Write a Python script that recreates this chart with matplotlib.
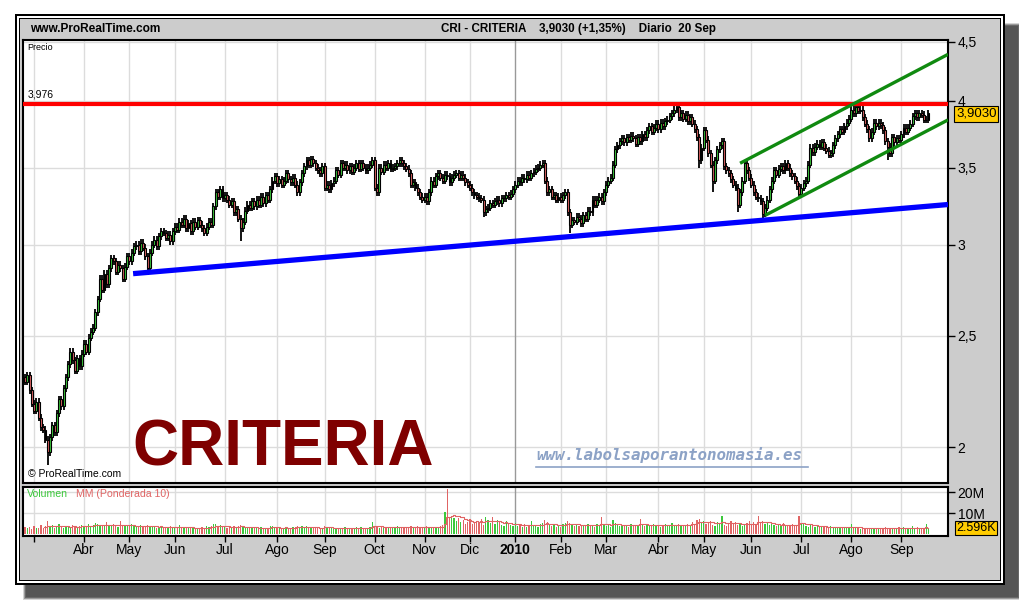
import numpy as np
import matplotlib
matplotlib.use('Agg')
import matplotlib.pyplot as plt
from matplotlib.patches import Rectangle
from matplotlib.ticker import NullLocator

W, H = 1020, 600

# daily closes, CRI (Criteria) late Feb 2009 -> 20 Sep 2010
closes = [
    2.28, 2.31, 2.24, 2.18, 2.15, 2.19, 2.12, 2.08, 2.07, 2.03,
    1.98, 2.04, 2.09, 2.06, 2.14, 2.20, 2.17, 2.25, 2.30, 2.36,
    2.42, 2.38, 2.33, 2.39, 2.35, 2.41, 2.46, 2.42, 2.49, 2.52,
    2.54, 2.62, 2.69, 2.80, 2.74, 2.83, 2.77, 2.86, 2.92, 2.90,
    2.84, 2.88, 2.86, 2.80, 2.87, 2.93, 2.90, 2.95, 2.99, 3.00,
    2.96, 3.01, 2.98, 2.93, 2.86, 2.95, 3.00, 3.03, 2.99, 3.05,
    3.08, 3.07, 3.04, 3.06, 3.02, 3.08, 3.11, 3.09, 3.14, 3.12,
    3.16, 3.10, 3.13, 3.08, 3.14, 3.11, 3.15, 3.12, 3.10, 3.07,
    3.11, 3.14, 3.12, 3.24, 3.33, 3.30, 3.35, 3.29, 3.31, 3.28,
    3.25, 3.27, 3.20, 3.22, 3.16, 3.10, 3.14, 3.21, 3.25, 3.23,
    3.27, 3.24, 3.28, 3.25, 3.30, 3.26, 3.31, 3.28, 3.35, 3.41,
    3.44, 3.39, 3.42, 3.38, 3.41, 3.46, 3.42, 3.40, 3.43, 3.38,
    3.33, 3.40, 3.46, 3.51, 3.55, 3.52, 3.56, 3.53, 3.50, 3.48,
    3.46, 3.51, 3.36, 3.38, 3.35, 3.39, 3.41, 3.48, 3.45, 3.53,
    3.50, 3.52, 3.48, 3.51, 3.47, 3.50, 3.53, 3.49, 3.53, 3.50,
    3.48, 3.50, 3.52, 3.55, 3.36, 3.33, 3.50, 3.47, 3.52, 3.50,
    3.53, 3.49, 3.50, 3.51, 3.53, 3.55, 3.53, 3.51, 3.49, 3.46,
    3.38, 3.40, 3.36, 3.33, 3.30, 3.28, 3.30, 3.27, 3.33, 3.41,
    3.38, 3.44, 3.46, 3.43, 3.41, 3.45, 3.44, 3.40, 3.43, 3.45,
    3.46, 3.43, 3.45, 3.43, 3.40, 3.38, 3.36, 3.33, 3.31, 3.30,
    3.29, 3.28, 3.20, 3.22, 3.23, 3.26, 3.25, 3.27, 3.28, 3.26,
    3.29, 3.29, 3.31, 3.30, 3.32, 3.35, 3.38, 3.41, 3.40, 3.43,
    3.42, 3.45, 3.43, 3.46, 3.47, 3.49, 3.50, 3.52, 3.53, 3.41,
    3.33, 3.35, 3.30, 3.31, 3.28, 3.30, 3.28, 3.31, 3.33, 3.20,
    3.12, 3.15, 3.14, 3.17, 3.16, 3.13, 3.18, 3.16, 3.21, 3.20,
    3.28, 3.25, 3.28, 3.30, 3.27, 3.33, 3.38, 3.41, 3.43, 3.52,
    3.63, 3.66, 3.69, 3.71, 3.68, 3.72, 3.70, 3.73, 3.71, 3.67,
    3.72, 3.69, 3.74, 3.72, 3.77, 3.80, 3.76, 3.79, 3.82, 3.78,
    3.83, 3.80, 3.84, 3.85, 3.88, 3.90, 3.93, 3.95, 3.87, 3.90,
    3.86, 3.89, 3.84, 3.87, 3.82, 3.78, 3.72, 3.55, 3.64, 3.77,
    3.70, 3.60, 3.52, 3.41, 3.55, 3.63, 3.66, 3.69, 3.51, 3.48,
    3.46, 3.42, 3.38, 3.36, 3.25, 3.33, 3.41, 3.53, 3.48, 3.43,
    3.38, 3.33, 3.30, 3.29, 3.27, 3.19, 3.23, 3.28, 3.35, 3.41,
    3.48, 3.45, 3.49, 3.51, 3.48, 3.53, 3.50, 3.46, 3.44, 3.41,
    3.37, 3.32, 3.36, 3.39, 3.41, 3.52, 3.64, 3.61, 3.65, 3.67,
    3.65, 3.68, 3.64, 3.62, 3.59, 3.60, 3.66, 3.71, 3.74, 3.78,
    3.76, 3.80, 3.83, 3.86, 3.93, 3.90, 3.95, 3.92, 3.93, 3.87,
    3.82, 3.78, 3.71, 3.76, 3.83, 3.80, 3.83, 3.81, 3.77, 3.69,
    3.65, 3.60, 3.72, 3.68, 3.71, 3.70, 3.74, 3.79, 3.76, 3.79,
    3.82, 3.88, 3.90, 3.87, 3.90, 3.89, 3.85, 3.851, 3.903,
]
first_open = 2.30
# candles whose low wick reaches far below the body
long_wicks = {10: 1.93, 54: 2.82, 95: 3.02, 202: 3.17, 240: 3.07,
              297: 3.50, 303: 3.33, 314: 3.20, 325: 3.15, 380: 3.55}

# daily volume, millions
volumes = [
    3.2, 2.8, 3.5, 2.6, 3.9, 3.1, 2.7, 4.4, 3.0, 3.6,
    6.2, 3.8, 4.1, 2.9, 3.5, 4.6, 3.3, 2.8, 4.0, 3.7,
    3.1, 4.2, 3.4, 2.9, 3.8, 4.5, 3.2, 3.9, 4.7, 3.5,
    4.1, 5.2, 4.8, 3.6, 4.3, 3.9, 5.5, 4.2, 3.8, 4.6,
    4.0, 3.5, 6.0, 4.4, 3.7, 4.1, 3.6, 4.8, 3.9, 3.4,
    3.8, 4.2, 3.3, 3.9, 4.5, 3.6, 3.2, 3.7, 3.1, 3.5,
    3.9, 3.0, 3.4, 2.9, 3.6, 3.3, 2.8, 3.2, 4.1, 3.0,
    3.4, 2.7, 3.1, 2.9, 3.5, 2.6, 3.0, 2.8, 3.3, 2.5,
    3.6, 3.2, 3.8, 5.0, 4.6, 3.9, 4.2, 3.5, 3.8, 3.1,
    3.4, 2.9, 3.7, 3.2, 3.9, 4.4, 3.5, 3.0, 3.3, 2.8,
    3.1, 2.7, 3.0, 2.6, 3.2, 2.9, 2.5, 2.8, 3.6, 3.9,
    3.3, 2.9, 3.1, 2.7, 3.0, 3.4, 2.8, 2.6, 3.2, 3.5,
    3.8, 3.1, 3.6, 3.3, 3.9, 3.0, 2.8, 3.2, 2.9, 3.1,
    2.7, 3.0, 3.7, 3.4, 2.9, 3.2, 2.6, 3.1, 2.8, 3.0,
    2.7, 3.3, 2.9, 3.1, 2.8, 3.0, 3.2, 2.7, 3.4, 2.9,
    3.1, 2.8, 3.3, 5.6, 4.0, 3.8, 3.1, 3.5, 2.9, 3.2,
    3.0, 3.4, 2.8, 3.1, 3.6, 2.9, 3.3, 3.0, 3.2, 3.5,
    3.9, 3.4, 3.1, 3.6, 3.3, 3.0, 3.4, 3.8, 3.2, 3.5,
    3.1, 3.4, 3.0, 3.6, 4.2, 10.5, 21.5, 8.2, 8.5, 7.6,
    6.1, 7.8, 5.5, 6.9, 4.8, 5.9, 7.2, 4.6, 5.8, 6.4,
    5.1, 7.0, 4.3, 8.1, 6.5, 5.2, 7.9, 4.9, 6.8, 5.5,
    4.4, 3.8, 6.3, 5.0, 4.2, 3.6, 5.4, 3.9, 4.6, 3.3,
    4.8, 3.5, 4.1, 6.2, 3.7, 4.4, 3.2, 4.9, 5.3, 6.8,
    5.6, 4.2, 3.8, 4.6, 3.5, 4.0, 3.3, 4.7, 5.1, 6.0,
    5.4, 4.5, 3.9, 4.8, 3.6, 4.2, 3.7, 4.4, 5.0, 3.8,
    4.1, 3.5, 4.6, 3.9, 8.2, 4.4, 3.7, 4.2, 3.4, 6.5,
    5.3, 4.1, 3.6, 4.5, 3.8, 4.3, 3.5, 4.9, 4.0, 3.7,
    4.2, 7.2, 4.6, 3.9, 4.4, 3.6, 4.1, 5.0, 3.8, 4.3,
    3.5, 4.0, 4.6, 3.7, 4.2, 5.1, 4.4, 3.9, 4.8, 4.1,
    3.6, 4.3, 5.0, 4.5, 5.8, 4.9, 6.6, 7.2, 5.5, 6.1,
    4.7, 5.3, 6.0, 4.4, 3.9, 5.6, 4.8, 8.8, 4.5, 3.8,
    5.1, 6.2, 4.6, 5.7, 4.3, 4.9, 3.7, 4.4, 5.2, 6.0,
    4.1, 5.5, 4.7, 8.4, 5.9, 6.3, 4.8, 5.6, 4.5, 5.0,
    4.2, 3.8, 4.6, 4.0, 5.3, 3.9, 4.4, 3.6, 4.8, 4.1,
    3.7, 8.6, 5.2, 4.6, 4.0, 3.5, 4.3, 3.8, 3.4, 4.1,
    3.6, 3.2, 3.9, 3.4, 3.0, 3.6, 3.3, 2.9, 3.5, 3.1,
    2.8, 3.2, 2.9, 3.4, 4.9, 3.0, 2.7, 3.1, 2.6, 2.9,
    2.4, 2.8, 2.5, 3.0, 2.6, 2.3, 2.9, 2.5, 2.7, 3.2,
    2.8, 2.4, 3.1, 2.6, 2.9, 3.3, 2.7, 3.4, 3.0, 2.6,
    2.9, 3.8, 2.5, 3.2, 2.7, 2.4, 2.6, 4.7, 2.6,
]

# first trading day of each month (candle index)
month_idx = [4, 26, 46, 66, 88, 111, 132, 154, 176, 196,
             216, 236, 256, 279, 299, 320, 342, 364, 386]
month_lbl = ['', 'Abr', 'May', 'Jun', 'Jul', 'Ago', 'Sep', 'Oct', 'Nov', 'Dic',
             '2010', 'Feb', 'Mar', 'Abr', 'May', 'Jun', 'Jul', 'Ago', 'Sep']

resistance = 3.976
support_x, support_y = [47.6, 406.6], [2.83, 3.25]
chan_up_x, chan_up_y = [315, 406.6], [3.53, 4.39]
chan_lo_x, chan_lo_y = [326, 406.6], [3.18, 3.85]

price_ticks = [2, 2.5, 3, 3.5, 4, 4.5]
price_lbls = ['2', '2,5', '3', '3,5', '4', '4,5']
vol_ticks = [10, 20]
vol_lbls = ['10M', '20M']

GREEN = '#3cc83c'
RED = '#e06464'
FONT = ['Liberation Sans', 'DejaVu Sans']


def box(x0, y0, x1, y1):
    return [x0 / W, 1 - y1 / H, (x1 - x0) / W, (y1 - y0) / H]


closes = np.array(closes)
opens = np.concatenate([[first_open], closes[:-1]])
idx = np.arange(len(closes))
top = np.maximum(opens, closes)
bot = np.minimum(opens, closes)
highs = top * 1.007
lows = bot * 0.993
for k, v in long_wicks.items():
    lows[k] = v
up = closes >= opens
cols = np.where(up, GREEN, RED)

fig = plt.figure(figsize=(W / 100, H / 100), dpi=100)
fig.patch.set_facecolor('white')

# frame / shadow in pixel coordinates
bg = fig.add_axes([0, 0, 1, 1])
bg.set_xlim(0, W)
bg.set_ylim(H, 0)
bg.axis('off')
for k, a in enumerate([0.25, 0.45, 0.7, 1.0]):
    g = 3 - k
    bg.add_patch(Rectangle((26 - g, 26 - g), 992 + 2 * g, 571 + 2 * g, fc='#555555', ec='none', alpha=a))
bg.add_patch(Rectangle((15, 14), 990, 571, fc='black', ec='none'))
bg.add_patch(Rectangle((17, 16), 986, 567, fc='white', ec='none'))
bg.add_patch(Rectangle((19, 18), 982, 563, fc='black', ec='none'))
bg.add_patch(Rectangle((20, 19), 980, 561, fc='#cccccc', ec='none'))

bg.text(30, 29, 'www.ProRealTime.com', fontsize=8.6, fontweight='bold', family=FONT,
        va='center', ha='left')
bg.text(578, 29, 'CRI - CRITERIA    3,9030 (+1,35%)    Diario  20 Sep',
        fontsize=8.4, fontweight='bold', family=FONT, va='center', ha='center')

# ---- price panel
ax = fig.add_axes(box(23, 40, 948, 483))
ax.set_facecolor('white')
ax.set_yscale('log')
ax.set_xlim(-0.9, 406.6)
ax.set_ylim(1.861, 4.518)
for y in price_ticks:
    ax.axhline(y, color='#dcdcdc', lw=1, zorder=0)
for m in month_idx:
    ax.axvline(m, color='#999999' if m == 216 else '#dcdcdc', lw=1, zorder=0)

ax.vlines(idx, lows, highs, color='black', lw=1.3, zorder=3)
ax.bar(idx, top - bot, bottom=bot, width=0.85, color=cols, edgecolor='black',
       linewidth=0.8, zorder=4)

ax.axhline(resistance, color='#ff0000', lw=3, zorder=5)
ax.plot(support_x, support_y, color='#0000ff', lw=3.8, zorder=5, solid_capstyle='butt')
ax.plot(chan_up_x, chan_up_y, color='#108a10', lw=2.4, zorder=5, solid_capstyle='butt')
ax.plot(chan_lo_x, chan_lo_y, color='#108a10', lw=2.4, zorder=5, solid_capstyle='butt')

ax.yaxis.tick_right()
ax.yaxis.set_minor_locator(NullLocator())
ax.set_yticks(price_ticks, price_lbls)
ax.tick_params(axis='y', direction='out', length=5, width=1, pad=2, labelsize=10)
for t in ax.get_yticklabels():
    t.set_family(FONT)
ax.set_xticks([])
for s in ax.spines.values():
    s.set_linewidth(1.5)

ax.text(0.005, 0.993, 'Precio', transform=ax.transAxes, fontsize=6.5, family=FONT, va='top', ha='left')
ax.text(1, resistance * 1.008, '3,976', fontsize=7.5, family=FONT, va='bottom', ha='left')
ax.text(0.005, 0.008, '\u00a9 ProRealTime.com', transform=ax.transAxes, fontsize=7.5,
        family=FONT, va='bottom', ha='left')
ax.text(0.118, 0.01, 'CRITERIA', transform=ax.transAxes, fontsize=46, fontweight='bold',
        color='#7f0000', family=FONT, va='bottom', ha='left', zorder=6)
ax.text(0.555, 0.045, 'www.labolsaporantonomasia.es', transform=ax.transAxes,
        fontsize=11.4, fontweight='bold', style='italic', color='#8ca2c6',
        family='DejaVu Sans Mono', va='bottom', ha='left', zorder=6)
ax.plot([0.555, 0.849], [0.036, 0.036], transform=ax.transAxes, color='#8ca2c6', lw=1.2, zorder=6)

bg.text(956, 114, '3,9030', fontsize=9.5, family=FONT, va='center', ha='left',
        bbox=dict(boxstyle='square,pad=0.12', fc='#ffcc00', ec='black', lw=0.8))

# ---- volume panel
axv = fig.add_axes(box(23, 487, 948, 536))
axv.set_facecolor('white')
axv.set_xlim(-0.9, 406.6)
axv.set_ylim(-0.95, 22.4)
for y in vol_ticks:
    axv.axhline(y, color='#dcdcdc', lw=1, zorder=0)
for m in month_idx:
    axv.axvline(m, color='#999999' if m == 216 else '#dcdcdc', lw=1, zorder=0)
axv.bar(idx, volumes, width=0.55, color=cols, linewidth=0, zorder=2)
vol = np.array(volumes)
w = np.arange(1, 11)
mm = np.full(len(vol), np.nan)
for i in range(9, len(vol)):
    mm[i] = np.dot(vol[i - 9:i + 1], w) / w.sum()
axv.plot(idx, mm, color=RED, lw=0.8, drawstyle='steps-mid', zorder=3)

axv.yaxis.tick_right()
axv.set_yticks(vol_ticks, vol_lbls)
axv.tick_params(axis='y', direction='out', length=5, width=1, pad=2, labelsize=10)
axv.set_xticks(month_idx, month_lbl)
axv.tick_params(axis='x', direction='out', length=4, width=1, pad=1, labelsize=10)
for t in axv.get_yticklabels() + axv.get_xticklabels():
    t.set_family(FONT)
axv.get_xticklabels()[10].set_fontweight('bold')
for s in axv.spines.values():
    s.set_linewidth(1.5)
axv.text(0.004, 0.95, 'Volumen', transform=axv.transAxes, fontsize=7.6, color=GREEN,
         family=FONT, va='top', ha='left')
axv.text(0.057, 0.95, 'MM (Ponderada 10)', transform=axv.transAxes, fontsize=7.6, color=RED,
         family=FONT, va='top', ha='left')

bg.text(956, 528, '2.596K', fontsize=9, family=FONT, va='center', ha='left',
        bbox=dict(boxstyle='square,pad=0.1', fc='#ffcc00', ec='black', lw=0.8))

fig.savefig('out.png', dpi=100, facecolor='white')
